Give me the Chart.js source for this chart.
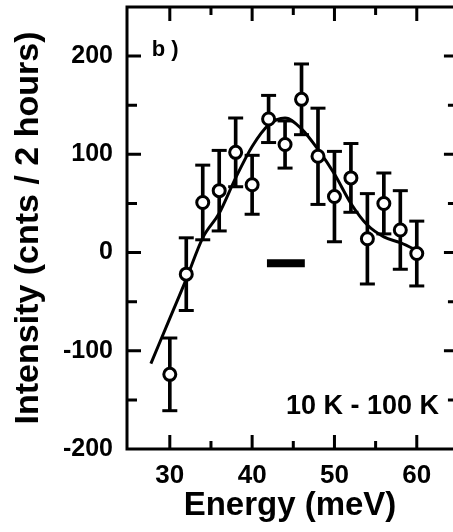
<!DOCTYPE html>
<html>
<head>
<meta charset="utf-8">
<script src="https://cdn.jsdelivr.net/npm/chart.js@4"></script>
<style>
	html, body { margin: 0; padding: 0; background: #fff; overflow: hidden; }
	canvas { display: block; }
</style>
</head>
<body>
<canvas id="myChart" width="453" height="532"></canvas>
<script>
// measured points (energy in meV, intensity in cnts / 2 hours)
const energy = [30, 32, 34, 36, 38, 40, 42, 44, 46, 48, 50, 52, 54, 56, 58, 60];
const intensity = [-124, -22, 51, 63, 102, 69, 136, 110, 156, 98, 57, 76, 14, 50, 23, -1];
const errors = [37, 37, 38, 41, 35, 30, 24, 24, 36, 49, 46, 35, 46, 31, 40, 33];

// fitted curve
const fitEnergy = [27.7, 30, 32, 34, 36, 38, 40, 42, 44, 46, 48, 50, 52, 54, 56, 58, 60.5];
const fitIntensity = [-113, -67, -27, 15, 40, 76, 108, 130, 137, 126, 105, 80, 50, 28, 16, 10, 0];

// instrumental resolution bar
const resEnergy = [41.8, 46.4];
const resIntensity = [-11, -11];

const xTicks = [25, 30, 35, 40, 45, 50, 55, 60];
const xTickLabels = [30, 40, 50, 60];
const yTickLabels = [-200, -100, 0, 100, 200];

const FONT = '"Liberation Sans", Arial, sans-serif';

class Front {
	constructor (){
		const _ = this;

		_.init();
	}

	framePlugin(){
		return {
			id: 'frame',
			afterDatasetsDraw(chart){
				const ctx = chart.ctx;
				const {left, right, top, bottom} = chart.chartArea;
				const xs = chart.scales.x;
				const ys = chart.scales.y;
				// the figure is cropped: its right frame edge (65 meV) is just off the picture
				const xr = xs.getPixelForValue(65);

				ctx.save();
				ctx.strokeStyle = '#000';
				ctx.lineWidth = 3;
				ctx.beginPath();
				ctx.moveTo(xr, top); ctx.lineTo(left, top);
				ctx.lineTo(left, bottom); ctx.lineTo(xr, bottom);
				ctx.lineTo(xr, top);
				ctx.stroke();

				ctx.beginPath();
				xs.ticks.forEach(t => {
					const px = xs.getPixelForValue(t.value);
					if (px <= left + 3 || px >= right - 3) return;
					const len = t.value % 10 === 0 ? 14 : 8;
					ctx.moveTo(px, bottom); ctx.lineTo(px, bottom - len);
					ctx.moveTo(px, top); ctx.lineTo(px, top + len);
				});
				ys.ticks.forEach(t => {
					const py = ys.getPixelForValue(t.value);
					if (py <= top + 2 || py >= bottom - 2) return;
					const len = t.value % 100 === 0 ? 14 : 10;
					ctx.moveTo(left, py); ctx.lineTo(left + len, py);
					ctx.moveTo(xr, py); ctx.lineTo(xr - len, py);
				});
				ctx.stroke();

				ctx.fillStyle = '#000';
				ctx.textBaseline = 'middle';
				ctx.textAlign = 'left';
				ctx.font = 'bold 22px ' + FONT;
				ctx.fillText('b )', xs.getPixelForValue(27.8), ys.getPixelForValue(206));
				ctx.font = 'bold 27px ' + FONT;
				ctx.fillText('10 K - 100 K', xs.getPixelForValue(44.1), ys.getPixelForValue(-157));
				ctx.restore();
			}
		};
	}

	start(){
		const _ = this;
		const ctx = document.getElementById('myChart');

		let points = energy.map((x, i) => ({x: x, y: intensity[i]}));
		let bars = energy.map((x, i) => ({x: x, y: [intensity[i] - errors[i], intensity[i] + errors[i]]}));
		let caps = energy.map((x, i) => ({x: x, y: intensity[i] + errors[i]}))
			.concat(energy.map((x, i) => ({x: x, y: intensity[i] - errors[i]})));
		let fit = fitEnergy.map((x, i) => ({x: x, y: fitIntensity[i]}));
		let res = resEnergy.map((x, i) => ({x: x, y: resIntensity[i]}));

		let data = {
			datasets: [{
				type: 'scatter',
				data: points,
				pointRadius: 6,
				pointBorderWidth: 3,
				backgroundColor: '#fff',
				borderColor: '#000',
				order: 0
			}, {
				type: 'line',
				data: fit,
				borderColor: '#000',
				borderWidth: 3,
				pointRadius: 0,
				cubicInterpolationMode: 'monotone',
				order: 2
			}, {
				type: 'line',
				data: res,
				borderColor: '#000',
				borderWidth: 8,
				borderCapStyle: 'butt',
				pointRadius: 0,
				order: 2
			}, {
				type: 'bar',
				data: bars,
				backgroundColor: '#000',
				barThickness: 3,
				grouped: false,
				order: 3
			}, {
				type: 'scatter',
				data: caps,
				pointStyle: 'line',
				pointRadius: 7.5,
				pointBorderWidth: 3,
				borderColor: '#000',
				order: 3
			}]
		};

		// keep the plot box where the figure has it
		const noPad = scale => {
			scale.paddingTop = 0;
			scale.paddingBottom = 0;
			scale.paddingLeft = 0;
			scale.paddingRight = 0;
		};

		_.chart = new Chart(ctx, {
			type: 'scatter',
			data: data,
			plugins: [_.framePlugin()],
			options: {
				responsive: false,
				devicePixelRatio: 1,
				animation: false,
				layout: {autoPadding: false, padding: {top: 7, right: 0, left: 0, bottom: 0}},
				plugins: {
					legend: {display: false},
					tooltip: {enabled: false}
				},
				scales: {
					x: {
						type: 'linear',
						min: 24.8,
						max: 64.4,
						offset: false,
						grid: {display: false, drawTicks: false},
						border: {display: false},
						afterBuildTicks(scale){ scale.ticks = xTicks.map(v => ({value: v})); },
						ticks: {
							autoSkip: false,
							maxRotation: 0,
							padding: 11,
							color: '#000',
							font: {family: FONT, size: 26, weight: 'bold'},
							callback: v => xTickLabels.includes(v) ? String(v) : ''
						},
						title: {
							display: true,
							text: 'Energy (meV)',
							color: '#000',
							font: {family: FONT, size: 33, weight: 'bold'},
							padding: {top: 0, bottom: 6}
						},
						afterFit(scale){ scale.height = 83; noPad(scale); }
					},
					y: {
						min: -200,
						max: 250,
						grid: {display: false, drawTicks: false},
						border: {display: false},
						ticks: {
							stepSize: 50,
							autoSkip: false,
							padding: 14,
							color: '#000',
							font: {family: FONT, size: 25, weight: 'bold'},
							callback: v => yTickLabels.includes(v) ? String(v) : ''
						},
						title: {
							display: true,
							text: 'Intensity (cnts / 2 hours)',
							color: '#000',
							font: {family: FONT, size: 34, weight: 'bold'},
							padding: {top: 8, bottom: 0}
						},
						afterFit(scale){ scale.width = 127; noPad(scale); }
					}
				}
			}
		});
	}

	init(){
		const _ = this;
		_.start();
	}
}
new Front();
</script>
</body>
</html>
